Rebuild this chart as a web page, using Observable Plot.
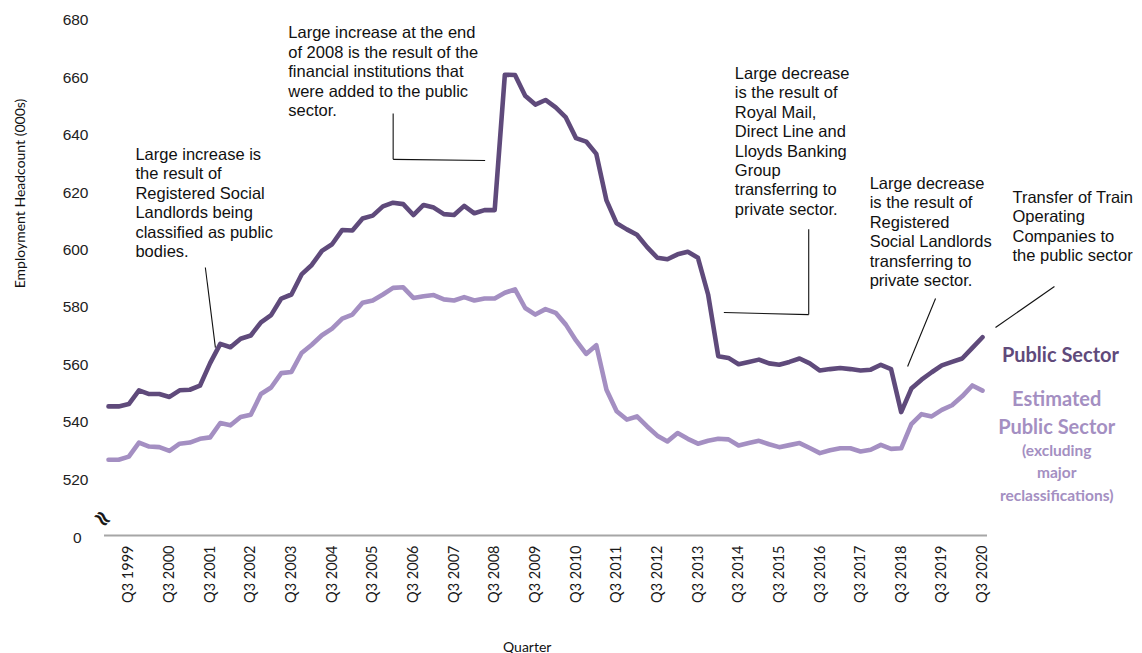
<!DOCTYPE html>
<html>
<head>
<meta charset="utf-8">
<script src="https://cdn.jsdelivr.net/npm/d3@7"></script>
<script src="https://cdn.jsdelivr.net/npm/@observablehq/plot@0.6"></script>
<style>
  html, body { margin: 0; padding: 0; background: #fff; }
  #chart svg { display: block; }
</style>
</head>
<body>
<div id="chart"></div>
<script>
// ---- Data (thousands, quarterly Q1 1999 .. Q3 2020) ----
const firstYear = 1999;
const publicSector = [
  545.5, 545.5, 546.3, 551.1, 549.8, 549.8, 548.8, 551.1, 551.3, 552.7,
  560.6, 567.3, 566.1, 569.1, 570.2, 574.8, 577.3, 583.1, 584.5, 591.5,
  594.8, 599.7, 602.0, 607.0, 606.8, 611.0, 612.0, 615.2, 616.5, 616.0,
  612.2, 615.7, 614.8, 612.5, 612.2, 615.4, 612.8, 613.9, 613.9, 661.1,
  661.0, 653.8, 650.7, 652.3, 649.7, 646.2, 639.0, 637.8, 633.5, 617.3,
  609.3, 607.2, 605.3, 601.0, 597.3, 596.8, 598.5, 599.4, 597.3, 584.5,
  563.0, 562.4, 560.2, 561.0, 561.8, 560.5, 560.0, 561.0, 562.2, 560.5,
  558.0, 558.5, 558.9, 558.5, 558.0, 558.3, 560.0, 558.5, 543.5, 551.7,
  554.8, 557.4, 559.8, 561.0, 562.2, 565.9, 569.6
];
const estimatedPublicSector = [
  526.9, 526.9, 528.0, 532.9, 531.5, 531.3, 530.0, 532.5, 532.9, 534.2,
  534.7, 539.7, 538.9, 541.8, 542.6, 549.8, 552.1, 557.1, 557.5, 564.1,
  567.0, 570.3, 572.6, 576.1, 577.5, 581.6, 582.4, 584.5, 586.8, 587.0,
  583.3, 583.9, 584.3, 582.8, 582.4, 583.6, 582.4, 583.1, 583.1, 585.1,
  586.3, 579.8, 577.5, 579.4, 578.1, 574.0, 568.5, 563.8, 566.8, 551.3,
  543.8, 540.9, 542.0, 538.5, 535.3, 533.3, 536.2, 534.2, 532.5, 533.5,
  534.2, 534.0, 531.9, 532.7, 533.5, 532.3, 531.3, 532.0, 532.7, 531.0,
  529.2, 530.2, 530.9, 530.9, 529.8, 530.4, 532.1, 530.7, 530.9, 539.3,
  542.8, 542.0, 544.3, 545.9, 549.0, 552.8, 551.0
];
const xTickLabels = [
  "Q3 1999","Q3 2000","Q3 2001","Q3 2002","Q3 2003","Q3 2004","Q3 2005",
  "Q3 2006","Q3 2007","Q3 2008","Q3 2009","Q3 2010","Q3 2011","Q3 2012",
  "Q3 2013","Q3 2014","Q3 2015","Q3 2016","Q3 2017","Q3 2018","Q3 2019","Q3 2020"
];
const yTicks = [520, 540, 560, 580, 600, 620, 640, 660, 680];
const yZeroLabel = "0";

// quarter index of each category label (Q3 = third quarter of each year)
const xTickIdx = xTickLabels.map(l => (+l.slice(3) - firstYear) * 4 + 2);

// annotation texts
const annotations = [
  {x: 2.65, y: 636.2, text: "Large increase is\nthe result of\nRegistered Social\nLandlords being\nclassified as public\nbodies."},
  {x: 17.69, y: 678.6, text: "Large increase at the end\nof 2008 is the result of the\nfinancial institutions that\nwere added to the public\nsector."},
  {x: 61.63, y: 664.4, text: "Large decrease\nis the result of\nRoyal Mail,\nDirect Line and\nLloyds Banking\nGroup\ntransferring to\nprivate sector."},
  {x: 74.9, y: 626.1, text: "Large decrease\nis the result of\nRegistered\nSocial Landlords\ntransferring to\nprivate sector."},
  {x: 88.95, y: 621.2, text: "Transfer of Train\nOperating\nCompanies to\nthe public sector"}
];
const leaders = [
  {x1: 9.53, y1: 593.9, x2: 10.52, y2: 566.0},
  {x1: 28.01, y1: 647.6, x2: 28.01, y2: 631.6},
  {x1: 28.01, y1: 631.6, x2: 37.06, y2: 631.2},
  {x1: 60.55, y1: 578.2, x2: 68.9, y2: 577.5},
  {x1: 68.9, y1: 577.5, x2: 68.9, y2: 607.2},
  {x1: 81.38, y1: 583.1, x2: 78.63, y2: 559.4},
  {x1: 93.08, y1: 587.3, x2: 87.28, y2: 573.0}
];
// end-of-line series labels
const seriesLabels = [
  {text: "Public Sector", x: 93.67, y: 563.2, size: 20, series: "Public Sector"},
  {text: "Estimated", x: 93.3, y: 547.9, size: 20, series: "Estimated"},
  {text: "Public Sector", x: 93.3, y: 538.1, size: 20, series: "Estimated"},
  {text: "(excluding", x: 93.3, y: 530.1, size: 15.5, series: "Estimated"},
  {text: "major", x: 93.3, y: 522.1, size: 15.5, series: "Estimated"},
  {text: "reclassifications)", x: 93.3, y: 514.1, size: 15.5, series: "Estimated"}
];

// ---- Build tables ----
const yBase = 500.5; // axis break position (shown as 0)
const rows = [];
publicSector.forEach((v, i) => rows.push({i, v, s: "Public Sector"}));
estimatedPublicSector.forEach((v, i) => rows.push({i, v, s: "Estimated"}));

const dark = "#5f4a7b";
const light = "#a48fc2";
const colorOf = s => s === "Public Sector" ? dark : light;
const font = "'Liberation Sans', Arial, sans-serif";
const cal = "Lato, 'Open Sans', sans-serif";

const chart = Plot.plot({
  width: 1142,
  height: 653,
  marginLeft: 108,
  marginRight: 160,
  marginTop: 20,
  marginBottom: 118,
  style: {fontFamily: font, color: "#1a1a1a", background: "#fff", overflow: "visible"},
  x: {type: "linear", domain: [0, 86]},
  y: {domain: [yBase, 680]},
  marks: [
    Plot.axisY(yTicks, {tickSize: 0, tickPadding: 20, fontSize: 15.5, label: null, fill: "#222"}),
    Plot.text([yZeroLabel], {frameAnchor: "left", y: yBase, text: d => d, dx: -27, dy: 3, textAnchor: "end", fontSize: 15.5, fill: "#222"}),
    Plot.axisX(xTickIdx, {tickSize: 0, tickPadding: 10, tickRotate: -90, fontSize: 14.5, fontFamily: cal,
      tickFormat: d => xTickLabels[xTickIdx.indexOf(d)], label: null, fill: "#1a1a1a"}),
    Plot.ruleY([yBase], {stroke: "#a6a6a6", strokeWidth: 2, insetLeft: -4, insetRight: -5}),
    Plot.text(["≈"], {x: 0, y: 506.4, text: d => d, dx: -6, rotate: 45, fontSize: 22, fontFamily: "DejaVu Sans", fill: "#111", stroke: "#111", strokeWidth: 0.6}),
    Plot.line(rows.filter(d => d.s === "Estimated"), {x: "i", y: "v", stroke: light, strokeWidth: 4.6, strokeLinejoin: "round", strokeLinecap: "round"}),
    Plot.line(rows.filter(d => d.s === "Public Sector"), {x: "i", y: "v", stroke: dark, strokeWidth: 4.6, strokeLinejoin: "round", strokeLinecap: "round"}),
    Plot.link(leaders, {x1: "x1", y1: "y1", x2: "x2", y2: "y2", stroke: "#111", strokeWidth: 1.1}),
    Plot.text(annotations, {x: "x", y: "y", text: "text", textAnchor: "start", lineAnchor: "top", lineHeight: 1.176, fontSize: 16.5, fill: "#111"}),
    Plot.text(seriesLabels, {x: "x", y: "y", text: "text", fontSize: "size", fill: d => colorOf(d.series), fontFamily: cal, fontWeight: "bold", lineAnchor: "middle"}),
    Plot.text(["Employment Headcount (000s)"], {frameAnchor: "left", y: 619.7, text: d => d, dx: -88, rotate: -90, textAnchor: "middle", fontFamily: cal, fontSize: 14, fill: "#111"}),
    Plot.text(["Quarter"], {frameAnchor: "bottom", x: 41.2, text: d => d, dy: 116, fontFamily: cal, fontSize: 14, fill: "#111"})
  ]
});
document.getElementById("chart").appendChild(chart);
</script>
</body>
</html>
